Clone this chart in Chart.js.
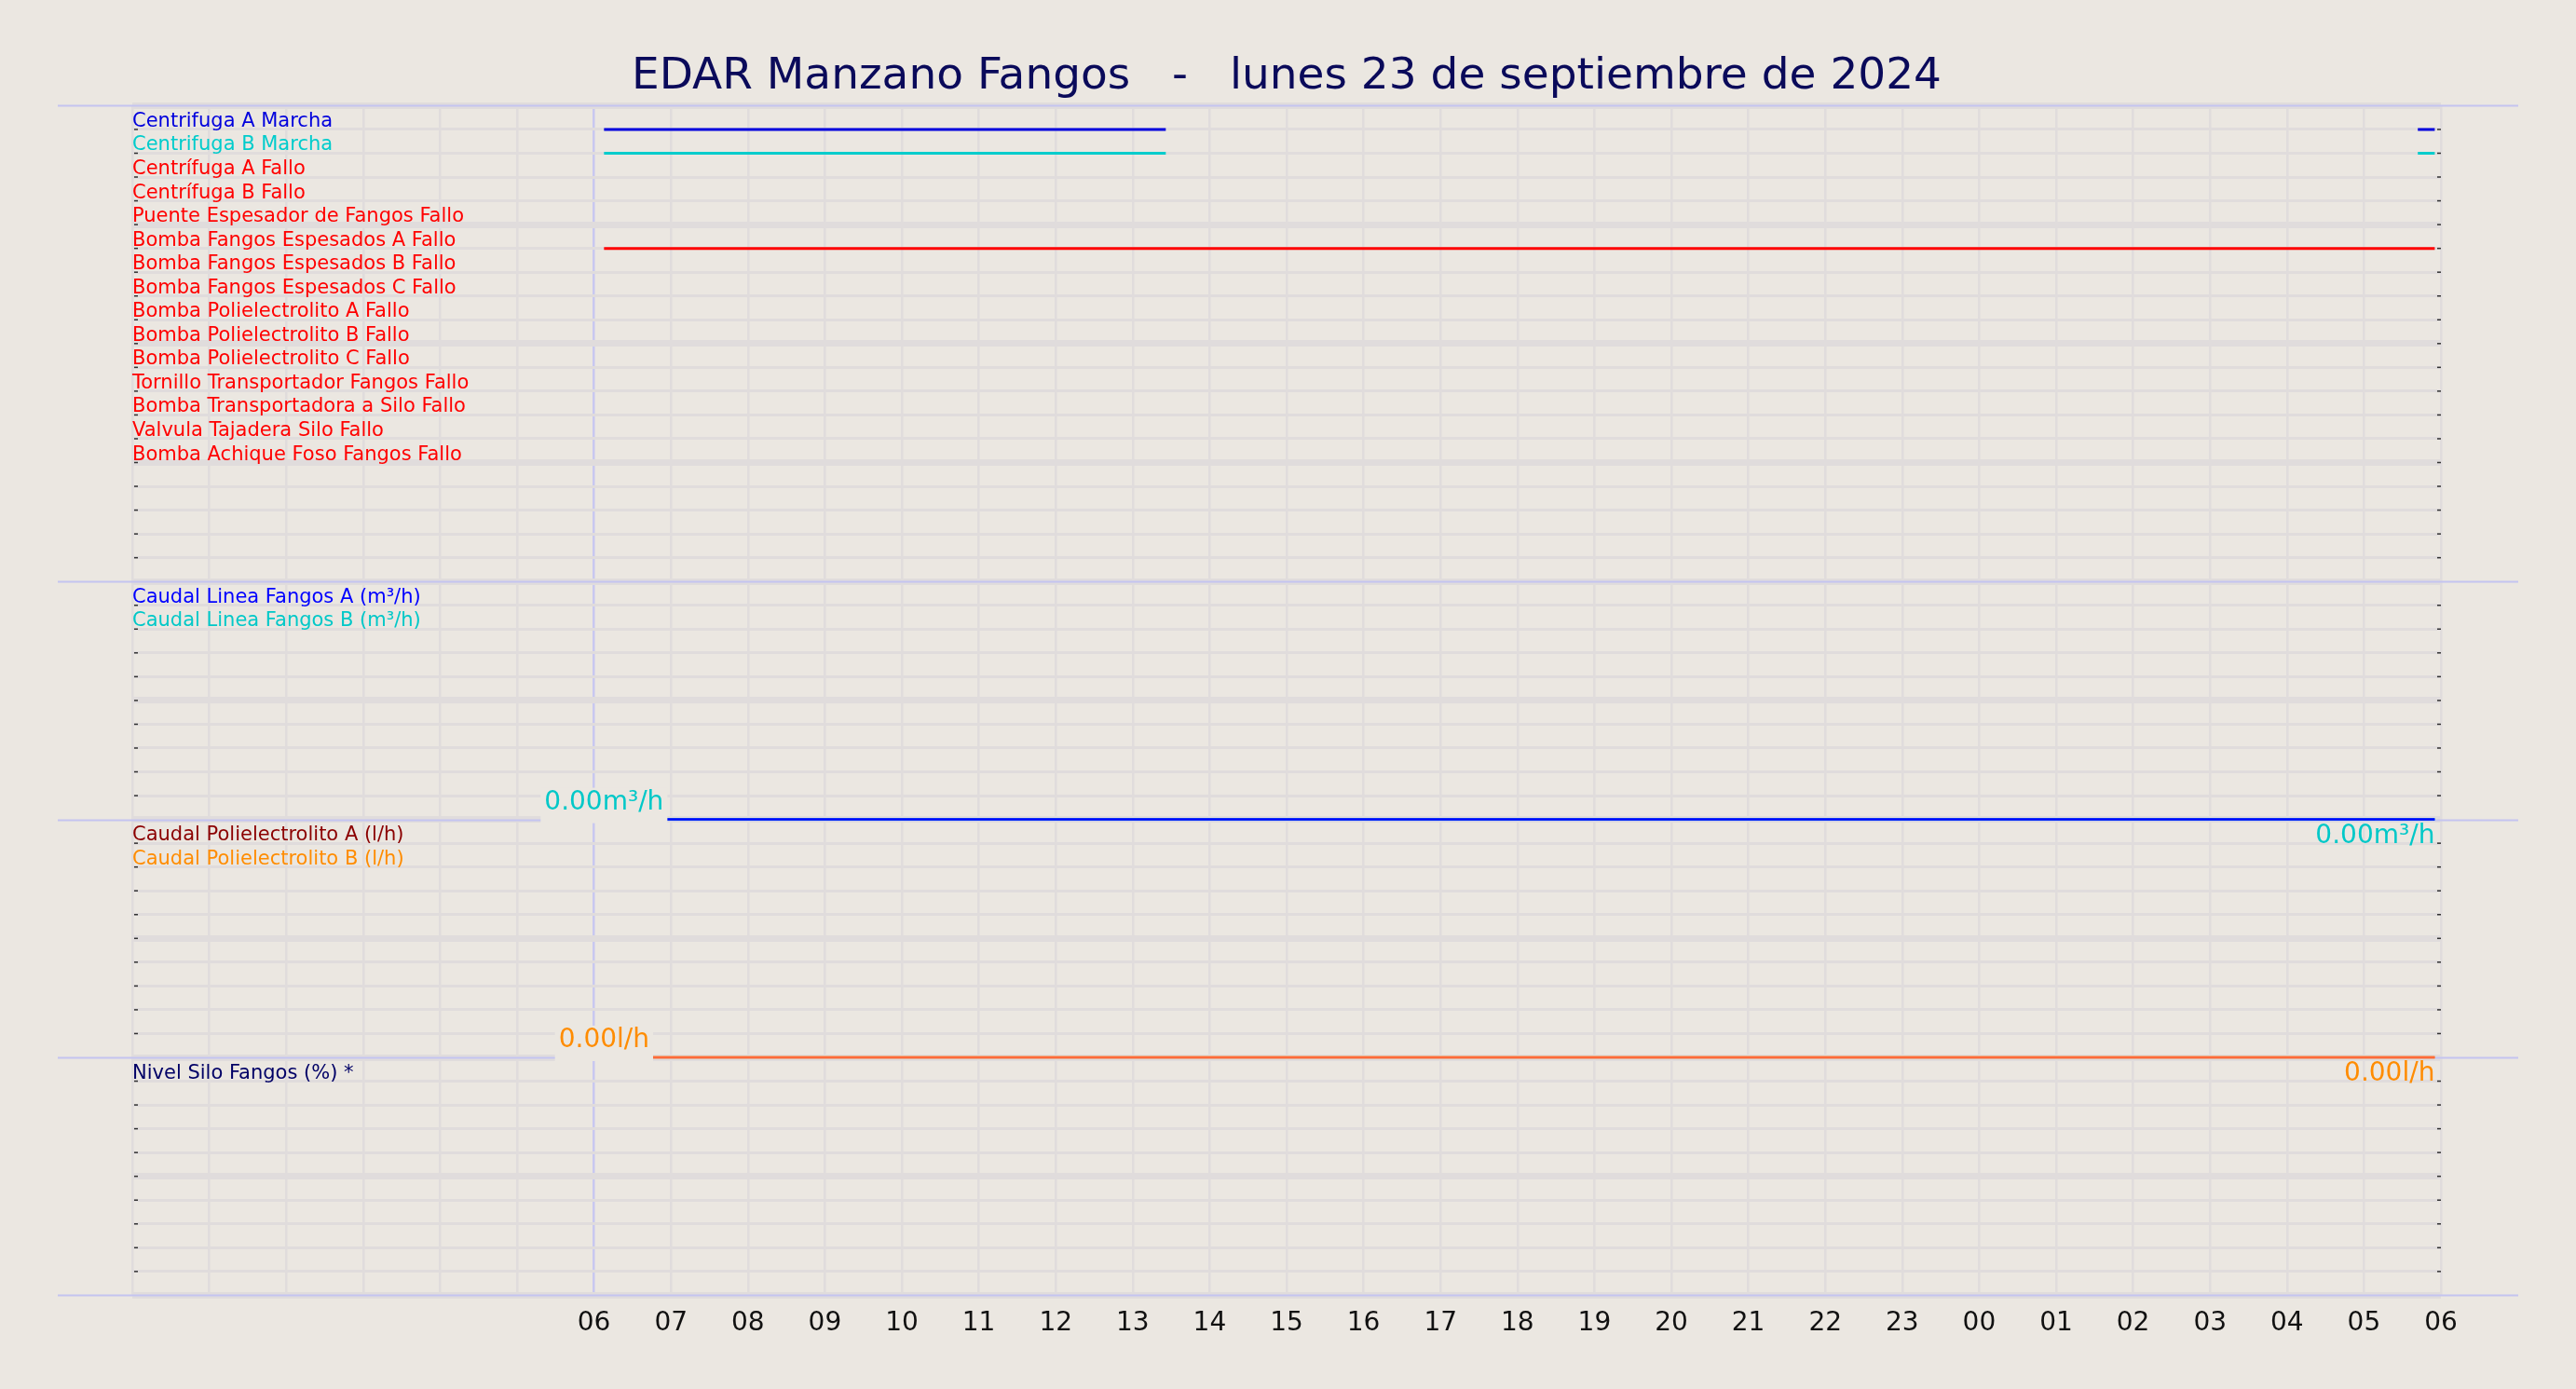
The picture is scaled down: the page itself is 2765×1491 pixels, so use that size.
<!DOCTYPE html>
<html><head><meta charset="utf-8">
<script src="https://cdn.jsdelivr.net/npm/chart.js@4/dist/chart.umd.min.js"></script>
<style>html,body{margin:0;padding:0;background:#ebe7e1}canvas{display:block}</style>
</head><body><canvas id="c" width="2765" height="1491"></canvas>
<script>
const title = "EDAR Manzano Fangos   -   lunes 23 de septiembre de 2024";
// x axis in hours since 00:00 of the day (06 = start of labelled range, 30 = 06 next day)
const xMin = 0, xMax = 30, firstLabelHour = 6;
// Digital signals (panel 1): name, colour, on-intervals [start,end] in hours
const digitalNames = ["Centrifuga A Marcha","Centrifuga B Marcha","Centrífuga A Fallo","Centrífuga B Fallo",
 "Puente Espesador de Fangos Fallo","Bomba Fangos Espesados A Fallo","Bomba Fangos Espesados B Fallo",
 "Bomba Fangos Espesados C Fallo","Bomba Polielectrolito A Fallo","Bomba Polielectrolito B Fallo",
 "Bomba Polielectrolito C Fallo","Tornillo Transportador Fangos Fallo","Bomba Transportadora a Silo Fallo",
 "Valvula Tajadera Silo Fallo","Bomba Achique Foso Fangos Fallo"];
const digitalColors = ["#0000dd","#00cccc","#ff0000","#ff0000","#ff0000","#ff0000","#ff0000","#ff0000",
 "#ff0000","#ff0000","#ff0000","#ff0000","#ff0000","#ff0000","#ff0000"];
const digitalOn = [[[6.13,13.43],[29.7,29.92]],[[6.13,13.43],[29.7,29.92]],[],[],[],[[6.13,29.92]],[],[],[],[],[],[],[],[],[]];
// Analog panels
const caudalNames = ["Caudal Linea Fangos A (m³/h)","Caudal Linea Fangos B (m³/h)"];
const caudalColors = ["#0000ff","#00c8c8"];
const caudalTimes = [6.13, 29.92];
const caudalA = [0, 0];
const caudalB = [0, 0];
const polyNames = ["Caudal Polielectrolito A (l/h)","Caudal Polielectrolito B (l/h)"];
const polyColors = ["#8b0000","#ff8c00"];
const polyTimes = [6.13, 29.92];
const polyA = [0, 0];
const polyB = [0, 0];
const nivelNames = ["Nivel Silo Fangos (%) *"];
const nivelColors = ["#000066"];
const caudalLabel = "0.00m³/h", polyLabel = "0.00l/h";

const P1=[0,20],P2=[20,30],P3=[30,40],P4=[40,50];
const map=(p,v,max)=>p[1]-v/max*(p[1]-p[0]);

const datasets=[];
digitalOn.forEach((segs,i)=>{
  const d=[]; segs.forEach(s=>{d.push({x:s[0],y:i+1},{x:s[1],y:i+1},{x:s[1],y:null});});
  datasets.push({data:d,borderColor:digitalColors[i],borderWidth:3,pointRadius:0,spanGaps:false});
});
[[caudalA,caudalTimes,caudalColors[0],P2],[caudalB,caudalTimes,caudalColors[1],P2],
 [polyA,polyTimes,"#ff6a3a",P3],[polyB,polyTimes,polyColors[1],P3]].forEach(([v,t,c,p])=>{
  datasets.push({data:v.map((y,k)=>({x:t[k],y:map(p,y,100)})),borderColor:c,borderWidth:2.5,pointRadius:0});
});

const bg="#ebe7e1";
const deco={id:'deco',
 beforeDraw(ch){const c=ch.ctx;c.save();c.fillStyle=bg;c.fillRect(0,0,ch.width,ch.height);c.restore();},
 beforeDatasetsDraw(ch){
  const c=ch.ctx,ys=ch.scales.y;c.save();
  c.strokeStyle="#c4c4f0";c.lineWidth=2;
  [0,20,30,40,50].forEach(v=>{const y=Math.round(ys.getPixelForValue(v))+0.5;c.beginPath();c.moveTo(62,y);c.lineTo(2703,y);c.stroke();});
  c.restore();},
 afterDatasetsDraw(ch){
  const c=ch.ctx,xs=ch.scales.x,ys=ch.scales.y,a=ch.chartArea;c.save();
  c.strokeStyle="#333";c.lineWidth=1.5;
  for(let v=1;v<50;v++){if(v===20||v===30||v===40)continue;const y=ys.getPixelForValue(v);
   c.beginPath();c.moveTo(a.left+2,y);c.lineTo(a.left+6,y);c.stroke();
   c.beginPath();c.moveTo(a.right-4,y);c.lineTo(a.right,y);c.stroke();}
  c.font="21px 'DejaVu Sans'";c.textBaseline="alphabetic";c.textAlign="left";
  const lab=(names,cols,p)=>names.forEach((n,i)=>{c.fillStyle=cols[i];c.fillText(n,a.left,ys.getPixelForValue(p[0]+i+1)-3);});
  lab(digitalNames,digitalColors,P1);lab(caudalNames,caudalColors,P2);lab(polyNames,polyColors,P3);lab(nivelNames,nivelColors,P4);
  c.font="28px 'DejaVu Sans'";
  const vl=(txt,col,t0,t1,p,val)=>{const y=ys.getPixelForValue(map(p,val,100));const x0=xs.getPixelForValue(t0);
   const w=c.measureText(txt).width;c.fillStyle=bg;c.fillRect(x0-w/2-4,y-34,w+8,38);
   c.fillStyle=col;c.textAlign="center";c.textBaseline="bottom";c.fillText(txt,x0,y-4);
   c.textAlign="right";c.textBaseline="top";c.fillText(txt,xs.getPixelForValue(t1),y+4);};
  vl(caudalLabel,caudalColors[1],caudalTimes[0],caudalTimes[1],P2,caudalB[0]);
  vl(polyLabel,polyColors[1],polyTimes[0],polyTimes[1],P3,polyB[0]);
  c.restore();}
};

new Chart(document.getElementById('c'),{type:'line',data:{datasets},
 plugins:[deco],
 options:{responsive:false,animation:false,devicePixelRatio:1,
  layout:{padding:{left:142,right:145,top:0,bottom:39}},
  plugins:{legend:{display:false},tooltip:{enabled:false},
   title:{display:true,text:title,color:"#0a0a5a",font:{family:"DejaVu Sans",size:47,weight:'normal'},padding:{top:55,bottom:2}}},
  scales:{
   x:{type:'linear',min:xMin,max:xMax,border:{display:false},
    grid:{color:ctx=>ctx.tick&&ctx.tick.value===firstLabelHour?"#c8c8f0":"#e0dcdc",lineWidth:2.5,drawTicks:false},
    ticks:{stepSize:1,autoSkip:false,maxRotation:0,padding:14,color:"#111",font:{family:"DejaVu Sans",size:28},
     callback:v=>v>=firstLabelHour?String(v%24).padStart(2,'0'):''}},
   y:{type:'linear',min:0,max:50,reverse:true,border:{display:false},
    grid:{color:"#e0dcdc",lineWidth:ctx=>ctx.tick&&ctx.tick.value%5===0?7:3,drawTicks:false},
    ticks:{stepSize:1,display:false}}
  }}});
</script></body></html>
